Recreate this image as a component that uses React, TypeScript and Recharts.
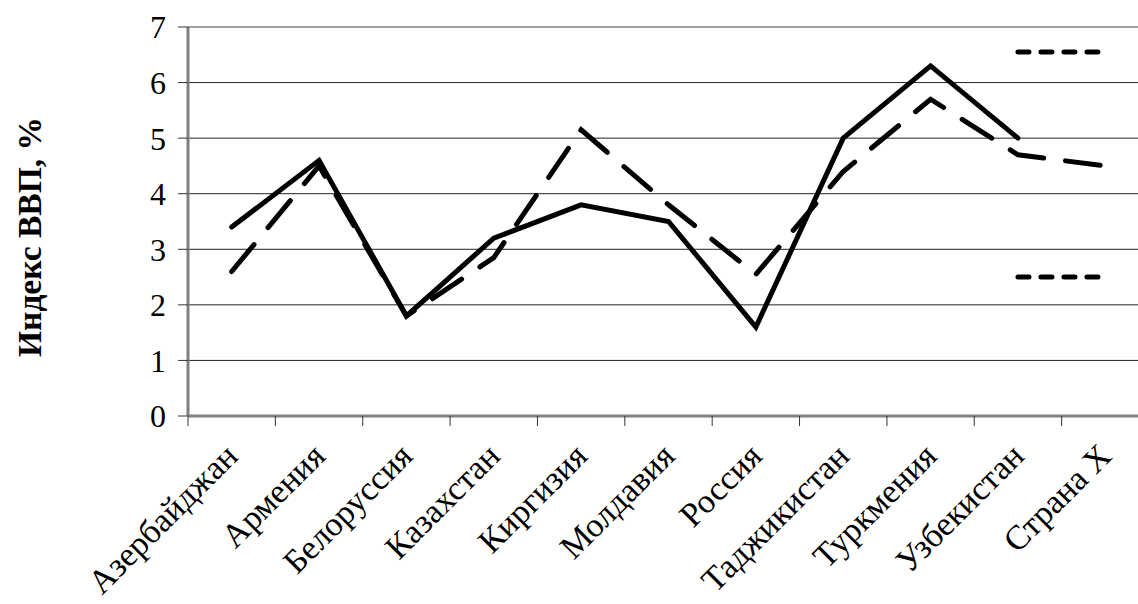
import { LineChart, Line, XAxis, YAxis, CartesianGrid, ReferenceLine } from 'recharts'

const countries = [
  'Азербайджан', 'Армения', 'Белоруссия', 'Казахстан', 'Киргизия', 'Молдавия',
  'Россия', 'Таджикистан', 'Туркмения', 'Узбекистан', 'Страна X',
]
// фактический индекс (сплошная)
const actual = [3.4, 4.6, 1.8, 3.2, 3.8, 3.5, 1.6, 5.0, 6.3, 5.0, null]
// модельный индекс (пунктир)
const model = [2.6, 4.5, 1.8, 2.85, 5.15, 3.8, 2.55, 4.4, 5.7, 4.7, 4.5]
// границы интервала для страны X
const upperBound = [null, null, null, null, null, null, null, null, null, 6.55, 6.55]
const lowerBound = [null, null, null, null, null, null, null, null, null, 2.5, 2.5]
const yTicks = [0, 1, 2, 3, 4, 5, 6, 7]

const data = countries.map((name, i) => ({
  i, name,
  actual: actual[i], model: model[i], upper: upperBound[i], lower: lowerBound[i],
}))

// tick marks sit between categories, labels go half a step to the right of each mark
const boundaryTicks = [...countries.map((_, i) => i - 0.5), countries.length - 0.5]

const FONT = "'Liberation Serif', 'Times New Roman', serif"

function CountryTick({ x, y, payload, width }: any) {
  const idx = Math.round(payload.value + 0.5)
  if (idx >= countries.length) return null
  const half = (width ?? 961) / countries.length / 2
  return (
    <g transform={`translate(${x + half + 8},${y + 32})`}>
      <text textAnchor="end" transform="rotate(-45)" fontSize={34} fontFamily={FONT} fill="#000">
        {countries[idx]}
      </text>
    </g>
  )
}

function AxisTitle() {
  return (
    <text x={41} y={237} transform="rotate(-90 41 237)" textAnchor="middle"
      fontSize={33.5} fontWeight="bold" fontFamily={FONT} fill="#000">
      Индекс ВВП, %
    </text>
  )
}

export default function App() {
  return (
    <div style={{ position: 'absolute', left: 0, top: 0, width: 1138, height: 604, overflow: 'hidden', background: '#fff' }}>
      <LineChart width={1160} height={604} data={data} margin={{ top: 27, right: 11, bottom: 0, left: 0 }}>
        <CartesianGrid vertical={false} stroke="#222" strokeWidth={1} />
        <XAxis dataKey="i" type="number" domain={[-0.5, countries.length - 0.5]}
          ticks={boundaryTicks} interval={0} tickSize={10} tickMargin={0} height={188}
          axisLine={{ stroke: '#808080', strokeWidth: 3 }} tickLine={{ stroke: '#333' }}
          tick={<CountryTick />} />
        <YAxis domain={[0, 7]} ticks={yTicks} interval={0} width={188} tickSize={10} tickMargin={12}
          axisLine={{ stroke: '#808080', strokeWidth: 3 }} tickLine={{ stroke: '#333' }}
          tick={{ fontSize: 32, fontFamily: FONT, fill: '#000' }} label={<AxisTitle />} />
        <ReferenceLine y={7} stroke="#a0a0a0" strokeWidth={2} />
        <Line dataKey="model" stroke="#000" strokeWidth={5} strokeDasharray="35 22"
          strokeLinecap="round" dot={false} isAnimationActive={false} />
        <Line dataKey="actual" stroke="#000" strokeWidth={5}
          strokeLinecap="round" dot={false} isAnimationActive={false} />
        <Line dataKey="upper" stroke="#000" strokeWidth={5} strokeDasharray="11 12"
          strokeLinecap="round" dot={false} isAnimationActive={false} />
        <Line dataKey="lower" stroke="#000" strokeWidth={5} strokeDasharray="11 12"
          strokeLinecap="round" dot={false} isAnimationActive={false} />
      </LineChart>
    </div>
  )
}
